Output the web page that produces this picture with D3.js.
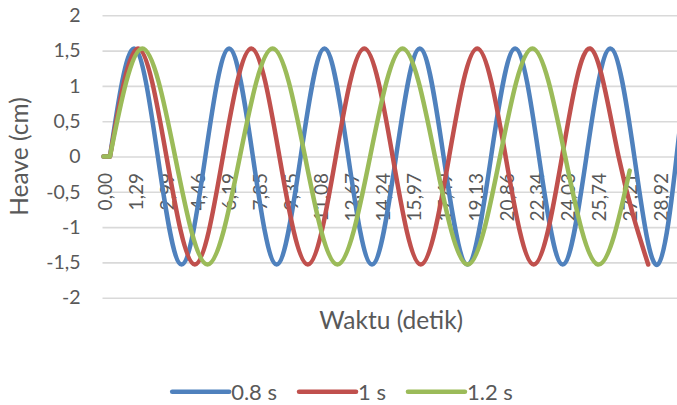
<!DOCTYPE html>
<html>
<head>
<meta charset="utf-8">
<script src="https://cdn.jsdelivr.net/npm/d3@7"></script>
<style>
  html, body { margin: 0; padding: 0; background: #fff; }
  svg { display: block; }
  text { font-family: Lato, "Noto Sans", sans-serif; fill: #595959; }
</style>
</head>
<body>
<div id="chart"></div>
<script>
// Heave response samples: [sample index, heave in cm] at crests, troughs and zero crossings
const series08 = [[0,0],[2.1,0],[9.9,1.53],[17.6,0],[25.3,-1.53],[33.0,0],[40.7,1.53],[48.4,0],[56.1,-1.53],
  [63.9,0],[71.6,1.53],[79.3,0],[87.0,-1.53],[94.8,0],[102.5,1.53],[110.2,0],[117.9,-1.53],[125.6,0],
  [133.4,1.53],[141.1,0],[148.8,-1.53],[156.5,0],[164.2,1.53],[172.0,0],[179.6,-1.53],[185.7,0],[187,0.45]];
const series10 = [[0,0],[2.1,0],[11.2,1.53],[20.4,0],[29.6,-1.53],[38.7,0],[47.9,1.53],[57.0,0],[66.2,-1.53],
  [75.3,0],[84.5,1.53],[93.7,0],[102.8,-1.53],[112.0,0],[121.1,1.53],[130.3,0],[139.4,-1.53],[148.6,0],
  [157.7,1.53],[166.9,0],[176.5,-1.53]];
const series12 = [[0,0],[2.1,0],[12.6,1.53],[23.2,0],[33.7,-1.53],[44.2,0],[54.8,1.53],[65.3,0],[75.8,-1.53],
  [86.4,0],[96.9,1.53],[107.4,0],[118.0,-1.53],[128.5,0],[139.0,1.53],[149.6,0],[160.2,-1.53],[170.5,-0.2]];

const seriesNames = ["0.8 s", "1 s", "1.2 s"];
const seriesColors = ["#4F81BD", "#C0504D", "#9BBB59"];
const seriesData = [series08, series10, series12];

// time stamps shown under every tenth sample
const xTickLabels = ["0,00","1,29","2,99","4,46","6,19","7,85","9,35","11,08","12,67","14,24",
  "15,97","17,49","19,13","20,86","22,34","24,03","25,74","27,21","28,92"];
const xTickStep = 10;
const lastSample = 187;
const yTicks = [-2, -1.5, -1, -0.5, 0, 0.5, 1, 1.5, 2];

const W = 677, H = 405;
const plotLeft = 102.5, plotRight = 681, plotTop = 15.3, plotBottom = 297.7;

const svg = d3.select("#chart").append("svg").attr("width", W).attr("height", H);

const x = d3.scaleLinear().domain([0, lastSample]).range([103.5, 680.6]);
const y = d3.scaleLinear().domain([-2, 2]).range([plotBottom, plotTop]);

// value axis with horizontal gridlines
const yAxis = svg.append("g")
  .attr("transform", `translate(${plotLeft},0)`)
  .call(d3.axisLeft(y).tickValues(yTicks)
    .tickFormat(d => String(d).replace(".", ","))
    .tickSize(-(plotRight - plotLeft)).tickPadding(22));
yAxis.select(".domain").remove();
yAxis.selectAll(".tick line").attr("stroke", "#d9d9d9").attr("stroke-width", 1.6);
yAxis.selectAll(".tick text").attr("font-size", 19.5).attr("font-family", "Lato").attr("fill", "#595959");

// category labels, rotated, every tenth sample
const xAxis = svg.append("g")
  .attr("transform", "translate(0,173)")
  .call(d3.axisBottom(x)
    .tickValues(d3.range(0, xTickLabels.length).map(i => i * xTickStep))
    .tickFormat((d, i) => xTickLabels[i]).tickSize(0));
xAxis.select(".domain").remove();
xAxis.selectAll(".tick text")
  .attr("x", 0).attr("y", 0).attr("dy", "0.44em")
  .attr("transform", "rotate(-90)")
  .attr("text-anchor", "end")
  .attr("font-size", 19).attr("font-family", "Lato").attr("fill", "#595959");

// series lines: straight lead-in, smooth spline through the wave
const lin = d3.line().x(d => x(d[0])).y(d => y(d[1]));
const nat = d3.line().x(d => x(d[0])).y(d => y(d[1])).curve(d3.curveNatural);
seriesData.forEach((pts, i) => {
  const path = lin(pts.slice(0, 2)) + nat(pts.slice(1)).replace(/^M/, "L");
  svg.append("path")
    .attr("d", path)
    .attr("fill", "none")
    .attr("stroke", seriesColors[i])
    .attr("stroke-width", 4.5)
    .attr("stroke-linecap", "round")
    .attr("stroke-linejoin", "round");
});

// axis titles
svg.append("text")
  .attr("x", (plotLeft + plotRight) / 2 - 0.5).attr("y", 329)
  .attr("text-anchor", "middle").attr("font-size", 24.5)
  .text("Waktu (detik)");
svg.append("text")
  .attr("transform", "translate(28.3,156.5) rotate(-90)")
  .attr("text-anchor", "middle").attr("font-size", 24.5)
  .text("Heave (cm)");

// legend, centred below the plot
const legend = svg.append("g");
const lineLen = 57, textGap = 2, entryGap = 22, legendY = 391.7;
let cursor = 0;
seriesNames.forEach((name, i) => {
  const g = legend.append("g");
  g.append("line")
    .attr("x1", 0).attr("x2", lineLen).attr("y1", legendY).attr("y2", legendY)
    .attr("stroke", seriesColors[i]).attr("stroke-width", 4.5).attr("stroke-linecap", "round");
  const t = g.append("text")
    .attr("x", lineLen + textGap).attr("y", 400)
    .attr("font-size", 22).text(name);
  const w = lineLen + textGap + t.node().getComputedTextLength();
  g.attr("transform", `translate(${cursor},0)`);
  cursor += w + entryGap;
});
const totalW = cursor - entryGap;
legend.attr("transform", `translate(${342.5 - totalW / 2},0)`);
</script>
</body>
</html>
